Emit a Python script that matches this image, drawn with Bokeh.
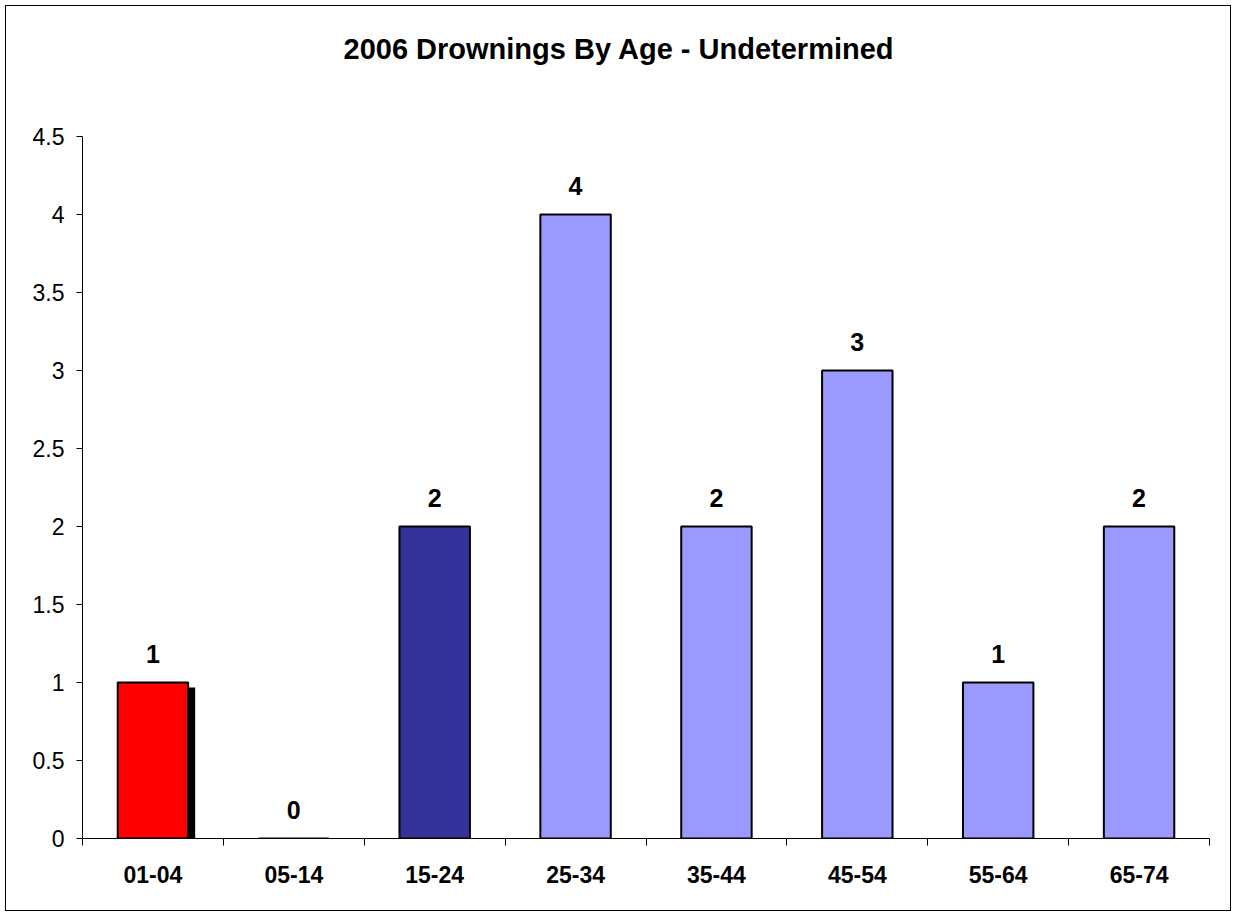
from bokeh.plotting import figure
from bokeh.models import (ColumnDataSource, Range1d, FixedTicker, NumeralTickFormatter,
                          LabelSet)
from bokeh.core.properties import value
from bokeh.embed import file_html
from bokeh.resources import INLINE

# ---- data ----
age_groups = ["01-04", "05-14", "15-24", "25-34", "35-44", "45-54", "55-64", "65-74"]
drownings = [1, 0, 2, 4, 2, 3, 1, 2]
bar_colors = ["#FF0000", "#9999FF", "#333399", "#9999FF", "#9999FF", "#9999FF", "#9999FF", "#9999FF"]
shadow_groups = ["01-04"]
y_ticks = [0, 0.5, 1, 1.5, 2, 2.5, 3, 3.5, 4, 4.5]
title_text = "2006 Drownings By Age - Undetermined"

FONT = "Liberation Sans"
W, H = 1226, 906
ML, MR, MT, MB = 76, 23, 130, 74
n = len(age_groups)
ymax = 4.5
px_per_x = (W - ML - MR) / n
px_per_y = (H - MT - MB) / ymax

centers = [i + 0.5 for i in range(n)]
src = ColumnDataSource(dict(x=centers, top=drownings, color=bar_colors,
                            label=[str(v) for v in drownings]))

sh_idx = [age_groups.index(g) for g in shadow_groups]
shadow_src = ColumnDataSource(dict(
    x=[centers[i] + 7 / px_per_x for i in sh_idx],
    top=[drownings[i] - 5 / px_per_y for i in sh_idx]))

p = figure(width=W, height=H, output_backend="svg", toolbar_location=None,
           x_range=Range1d(0, n), y_range=Range1d(0, ymax),
           min_border_left=ML, min_border_right=MR, min_border_top=MT, min_border_bottom=MB)
p.styles = {"border": "1px solid #000000", "box-sizing": "border-box",
            "margin-left": "5px", "margin-top": "5px"}

p.title.text = title_text
p.title.text_font = FONT
p.title.text_font_size = "29px"
p.title.text_font_style = "bold"
p.title.text_color = "black"
p.title.align = "left"
p.title.offset = 261
p.title.standoff = 0
p.title.padding = dict(left=0, right=0, top=1, bottom=72)

p.outline_line_color = None
p.xgrid.visible = False
p.ygrid.visible = False
p.background_fill_color = "white"
p.border_fill_color = "white"

p.vbar(x="x", top="top", bottom=0, width=0.5, source=shadow_src,
       fill_color="black", line_color=None)
p.vbar(x="x", top="top", bottom=0, width=0.5, source=src,
       fill_color="color", line_color="black", line_width=2)

labels = LabelSet(x="x", y="top", text="label", source=src, y_offset=20,
                  text_align="center", text_baseline="bottom",
                  text_font=value(FONT), text_font_size=value("25px"),
                  text_font_style=value("bold"), text_color=value("black"))
p.add_layout(labels)

# x axis
xa = p.xaxis[0]
xa.ticker = FixedTicker(ticks=centers, minor_ticks=list(range(n + 1)))
xa.major_label_overrides = {c: g for c, g in zip(centers, age_groups)}
xa.major_tick_out = 0
xa.major_tick_in = 0
xa.minor_tick_out = 7
xa.minor_tick_in = 0
xa.minor_tick_line_color = "black"
xa.axis_line_color = "black"
xa.major_label_standoff = 20
xa.major_label_text_font = FONT
xa.major_label_text_font_size = "23px"
xa.major_label_text_font_style = "bold"
xa.major_label_text_color = "black"

# y axis
ya = p.yaxis[0]
ya.ticker = FixedTicker(ticks=y_ticks, minor_ticks=[])
ya.formatter = NumeralTickFormatter(format="0.[0]")
ya.major_tick_out = 6
ya.major_tick_in = 0
ya.major_tick_line_color = "black"
ya.axis_line_color = "black"
ya.major_label_standoff = 12
ya.major_label_text_font = FONT
ya.major_label_text_font_size = "23px"
ya.major_label_text_color = "black"

open("out.html", "w").write(file_html(p, INLINE))
